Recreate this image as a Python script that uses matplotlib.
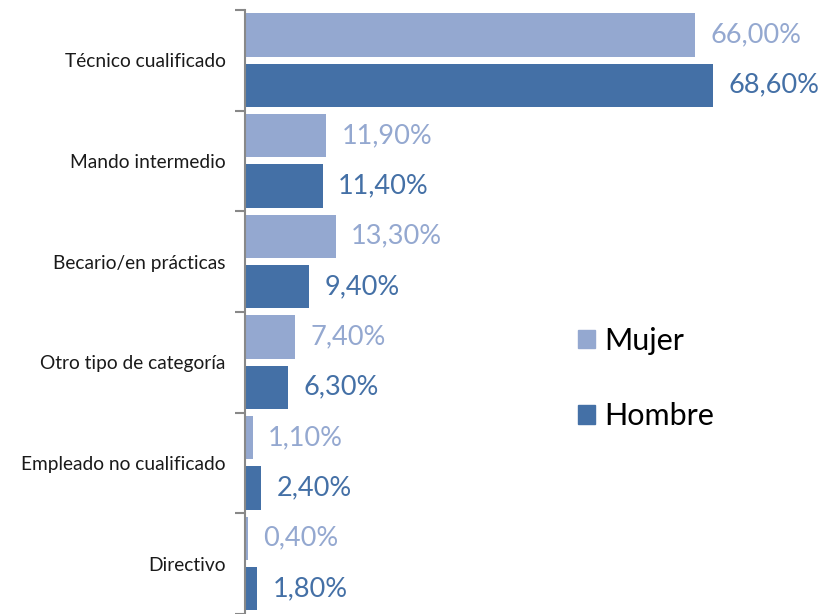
import matplotlib
matplotlib.use("Agg")
import matplotlib.pyplot as plt
from matplotlib.patches import Patch
import numpy as np

plt.rcParams['font.family'] = ['Lato', 'DejaVu Sans']

categories = ["Técnico cualificado", "Mando intermedio", "Becario/en prácticas",
              "Otro tipo de categoría", "Empleado no cualificado", "Directivo"]
mujer = [66.0, 11.9, 13.3, 7.4, 1.1, 0.4]
hombre = [68.6, 11.4, 9.4, 6.3, 2.4, 1.8]
series_names = ["Mujer", "Hombre"]

c_mujer = "#94A8D0"
c_hombre = "#4470A6"

fig = plt.figure(figsize=(8.22, 6.14), dpi=100)
ax = fig.add_axes([245/822, 0, (818-245)/822, 1 - 10/614])

n = len(categories)
y = np.arange(n) + 0.5
h = 0.43
ax.barh(y - 0.253, mujer, height=h, color=c_mujer)
ax.barh(y + 0.247, hombre, height=h, color=c_hombre)

def fmt(v):
    return f"{v:.2f}%".replace(".", ",")

for yi, v in zip(y - 0.253, mujer):
    ax.annotate(fmt(v), (v, yi), xytext=(11, 0), textcoords="offset points",
                va="center", ha="left", fontsize=19.5, color=c_mujer)
for yi, v in zip(y + 0.247, hombre):
    ax.annotate(fmt(v), (v, yi), xytext=(11, 0), textcoords="offset points",
                va="center", ha="left", fontsize=19.5, color=c_hombre)

ax.set_xlim(0, 84)
ax.set_ylim(n, 0)
ax.set_xticks([])
ax.set_yticks(np.arange(n + 1))
ax.set_yticklabels([])
ax.set_yticks(y, minor=True)
ax.set_yticklabels(categories, minor=True, fontsize=13.8, color="#1a1a1a")
ax.tick_params(axis="y", which="major", length=7, width=1.5, color="#888888", direction="out")
ax.tick_params(axis="y", which="minor", length=0, pad=14)
for s in ["top", "right", "bottom"]:
    ax.spines[s].set_visible(False)
ax.spines["left"].set_color("#888888")
ax.spines["left"].set_linewidth(1.5)

handles = [Patch(color=c_mujer, label=series_names[0]),
           Patch(color=c_hombre, label=series_names[1])]
fig.legend(handles=handles, loc="upper left", bbox_to_anchor=(578/822, 1 - 327/614),
           frameon=False, fontsize=22, handlelength=0.55, handleheight=0.55,
           handletextpad=0.3, labelspacing=1.55, borderpad=0, borderaxespad=0)

fig.savefig("out.png", dpi=100)
